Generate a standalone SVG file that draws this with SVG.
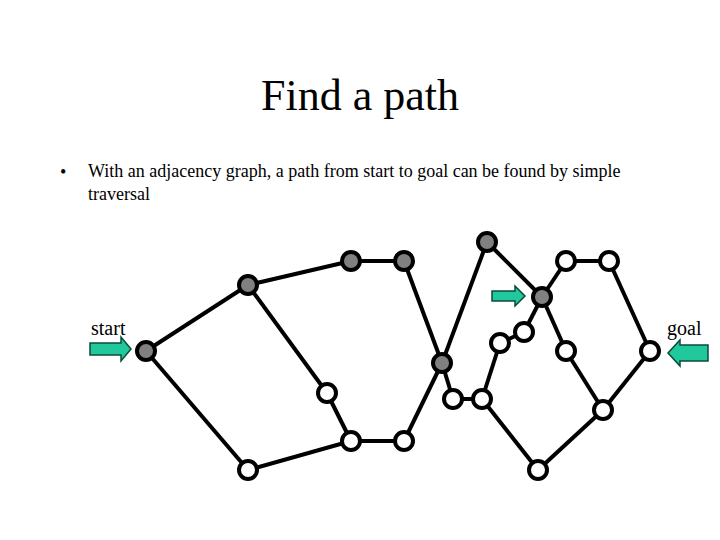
<svg xmlns="http://www.w3.org/2000/svg" width="720" height="540" viewBox="0 0 720 540">
<style>
.t{font-family:"Liberation Serif",serif;fill:#000}
.e line{stroke:#000;stroke-width:4}
.n circle{stroke:#000;stroke-width:4}
.g{fill:#808080}
.w{fill:#fff}
.ar{fill:#20c89c;stroke:#0b4a3a;stroke-width:1.5}
</style>
<rect width="720" height="540" fill="#fff"/>
<text class="t" x="360" y="110" font-size="44" text-anchor="middle">Find a path</text>
<text class="t" x="60" y="178" font-size="18">•</text>
<text class="t" x="88" y="177" font-size="18">With an adjacency graph, a path from start to goal can be found by simple</text>
<text class="t" x="88" y="200" font-size="18">traversal</text>
<text class="t" x="91" y="335" font-size="20">start</text>
<text class="t" x="667" y="335" font-size="20">goal</text>
<g id="arrows">
<path class="ar" d="M90,343 H121 V337 L131,349 L121,361 V355 H90 Z"/>
<path class="ar" d="M492,291 H515 V286 L525,296 L515,306 V301 H492 Z"/>
<path class="ar" d="M708,345 H680 V340 L668,353 L680,366 V361 H708 Z"/>
</g>
<g class="e" id="connectors">
<line x1="146" y1="351" x2="248" y2="285"/>
<line x1="248" y1="285" x2="351" y2="261"/>
<line x1="351" y1="261" x2="404" y2="261"/>
<line x1="404" y1="261" x2="442" y2="363"/>
<line x1="442" y1="363" x2="487" y2="242"/>
<line x1="487" y1="242" x2="542" y2="297"/>
<line x1="542" y1="297" x2="566" y2="261"/>
<line x1="566" y1="261" x2="609" y2="261"/>
<line x1="609" y1="261" x2="650" y2="351"/>
<line x1="650" y1="351" x2="603" y2="410"/>
<line x1="603" y1="410" x2="538" y2="470"/>
<line x1="538" y1="470" x2="482" y2="399"/>
<line x1="482" y1="399" x2="453" y2="399"/>
<line x1="453" y1="399" x2="442" y2="363"/>
<line x1="482" y1="399" x2="500" y2="343"/>
<line x1="500" y1="343" x2="524" y2="332"/>
<line x1="524" y1="332" x2="542" y2="297"/>
<line x1="542" y1="297" x2="566" y2="351"/>
<line x1="566" y1="351" x2="603" y2="410"/>
<line x1="146" y1="351" x2="248" y2="470"/>
<line x1="248" y1="470" x2="351" y2="441"/>
<line x1="351" y1="441" x2="327" y2="393"/>
<line x1="327" y1="393" x2="248" y2="285"/>
<line x1="351" y1="441" x2="404" y2="441"/>
<line x1="404" y1="441" x2="442" y2="363"/>
</g>
<g class="n">
<g id="nA"><circle class="g" cx="146" cy="351" r="9"/></g>
<g id="nB"><circle class="g" cx="248" cy="285" r="9"/></g>
<g id="nC"><circle class="g" cx="351" cy="261" r="9"/></g>
<g id="nD"><circle class="g" cx="404" cy="261" r="9"/></g>
<g id="nE"><circle class="g" cx="442" cy="363" r="9"/></g>
<g id="nF"><circle class="g" cx="487" cy="242" r="9"/></g>
<g id="nG"><circle class="g" cx="542" cy="297" r="9"/></g>
<g id="nH"><circle class="w" cx="566" cy="261" r="9"/></g>
<g id="nI"><circle class="w" cx="609" cy="261" r="9"/></g>
<g id="nJ"><circle class="w" cx="650" cy="351" r="9"/></g>
<g id="nK"><circle class="w" cx="524" cy="332" r="9"/></g>
<g id="nL"><circle class="w" cx="500" cy="343" r="9"/></g>
<g id="nM"><circle class="w" cx="566" cy="351" r="9"/></g>
<g id="nN"><circle class="w" cx="603" cy="410" r="9"/></g>
<g id="nO"><circle class="w" cx="538" cy="470" r="9"/></g>
<g id="nP"><circle class="w" cx="453" cy="399" r="9"/></g>
<g id="nQ"><circle class="w" cx="482" cy="399" r="9"/></g>
<g id="nR"><circle class="w" cx="327" cy="393" r="9"/></g>
<g id="nS"><circle class="w" cx="351" cy="441" r="9"/></g>
<g id="nT"><circle class="w" cx="404" cy="441" r="9"/></g>
<g id="nU"><circle class="w" cx="248" cy="470" r="9"/></g>
</g>
</svg>
